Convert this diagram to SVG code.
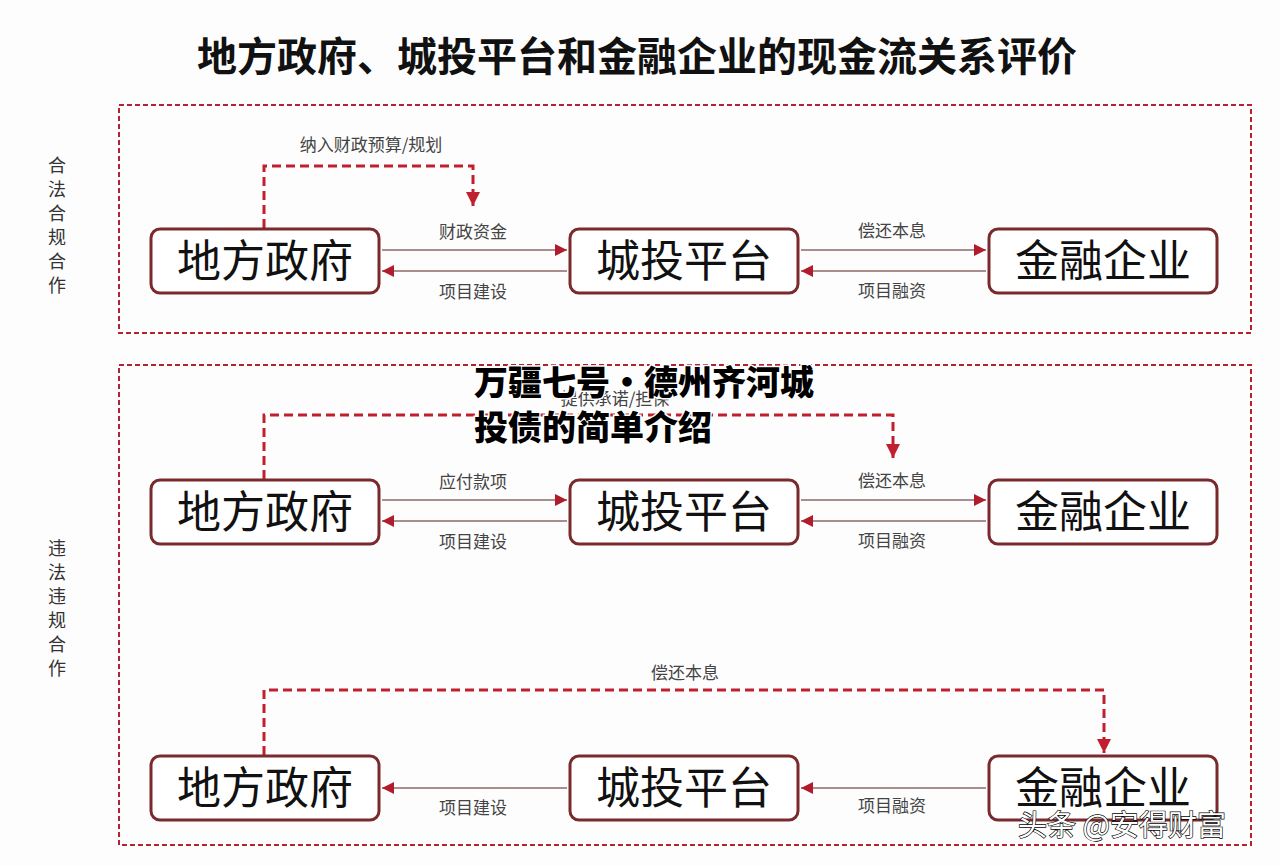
<svg xmlns="http://www.w3.org/2000/svg" width="1280" height="866" viewBox="0 0 1280 866">
<style>
.cjk{font-family:"Noto Sans CJK SC","Noto Sans",sans-serif}
.frame{fill:none;stroke:#b3222e;stroke-width:2;stroke-dasharray:5 3}
.node rect{fill:#fff;stroke:#7a2a2c;stroke-width:3}
.node text{font-size:44px;fill:#111;text-anchor:middle}
.solid{fill:none;stroke:#8a6a6a;stroke-width:1.3}
.dash{fill:none;stroke:#c0202e;stroke-width:3;stroke-dasharray:9 5}
.lbl{font-size:17px;fill:#444;text-anchor:middle}
.side{font-size:18px;fill:#333;text-anchor:middle}
</style>
<defs>
<marker id="ah" viewBox="0 0 10 10" refX="10" refY="5" markerWidth="14" markerHeight="12" markerUnits="userSpaceOnUse" orient="auto">
<path d="M0,0 L10,5 L0,10 Z" fill="#b01c2c"/>
</marker>
<marker id="ahd" viewBox="0 0 10 10" refX="10" refY="5" markerWidth="16" markerHeight="14" markerUnits="userSpaceOnUse" orient="auto">
<path d="M0,0 L10,5 L0,10 Z" fill="#c0202e"/>
</marker>
</defs>
<rect width="1280" height="866" fill="#fdfdfd"/>
<text class="cjk" x="637" y="71" font-size="40" font-weight="bold" text-anchor="middle" fill="#111">地方政府、城投平台和金融企业的现金流关系评价</text>

<g id="frames">
<rect class="frame" x="119" y="105" width="1132" height="228"/>
<rect class="frame" x="119" y="365" width="1132" height="480"/>
</g>

<g id="side-labels" class="cjk">
<text class="side" x="57"><tspan x="57" y="172">合</tspan><tspan x="57" y="196">法</tspan><tspan x="57" y="220">合</tspan><tspan x="57" y="244">规</tspan><tspan x="57" y="268">合</tspan><tspan x="57" y="292">作</tspan></text>
<text class="side" x="57"><tspan x="57" y="555">违</tspan><tspan x="57" y="579">法</tspan><tspan x="57" y="603">违</tspan><tspan x="57" y="627">规</tspan><tspan x="57" y="651">合</tspan><tspan x="57" y="675">作</tspan></text>
</g>

<g id="connectors">
<path class="dash" d="M264,228 V166 H473 V206" marker-end="url(#ahd)"/>
<line class="solid" x1="382" y1="250" x2="567" y2="250" marker-end="url(#ah)"/>
<line class="solid" x1="567" y1="271" x2="382" y2="271" marker-end="url(#ah)"/>
<line class="solid" x1="801" y1="250" x2="986" y2="250" marker-end="url(#ah)"/>
<line class="solid" x1="986" y1="271" x2="801" y2="271" marker-end="url(#ah)"/>
<path class="dash" d="M264,479 V415 H893 V458" marker-end="url(#ahd)"/>
<line class="solid" x1="382" y1="500" x2="567" y2="500" marker-end="url(#ah)"/>
<line class="solid" x1="567" y1="521" x2="382" y2="521" marker-end="url(#ah)"/>
<line class="solid" x1="801" y1="500" x2="986" y2="500" marker-end="url(#ah)"/>
<line class="solid" x1="986" y1="521" x2="801" y2="521" marker-end="url(#ah)"/>
<path class="dash" d="M264,755 V690 H1104 V753" marker-end="url(#ahd)"/>
<line class="solid" x1="567" y1="788" x2="382" y2="788" marker-end="url(#ah)"/>
<line class="solid" x1="986" y1="788" x2="801" y2="788" marker-end="url(#ah)"/>
</g>

<g id="connector-labels" class="cjk">
<text class="lbl" x="371" y="151">纳入财政预算/规划</text>
<text class="lbl" x="473" y="238">财政资金</text>
<text class="lbl" x="473" y="298">项目建设</text>
<text class="lbl" x="892" y="237">偿还本息</text>
<text class="lbl" x="892" y="297">项目融资</text>
<text class="lbl" x="615" y="405">提供承诺/担保</text>
<text class="lbl" x="473" y="488">应付款项</text>
<text class="lbl" x="473" y="548">项目建设</text>
<text class="lbl" x="892" y="487">偿还本息</text>
<text class="lbl" x="892" y="547">项目融资</text>
<text class="lbl" x="685" y="679">偿还本息</text>
<text class="lbl" x="473" y="814">项目建设</text>
<text class="lbl" x="892" y="812">项目融资</text>
</g>

<g id="gov1" class="node cjk"><rect x="151" y="229" width="228" height="64" rx="9"/><text x="265" y="277">地方政府</text></g>
<g id="lgfv1" class="node cjk"><rect x="570" y="229" width="228" height="64" rx="9"/><text x="684" y="277">城投平台</text></g>
<g id="fin1" class="node cjk"><rect x="989" y="229" width="228" height="64" rx="9"/><text x="1103" y="277">金融企业</text></g>

<g id="gov2" class="node cjk"><rect x="151" y="480" width="228" height="64" rx="9"/><text x="265" y="528">地方政府</text></g>
<g id="lgfv2" class="node cjk"><rect x="570" y="480" width="228" height="64" rx="9"/><text x="684" y="528">城投平台</text></g>
<g id="fin2" class="node cjk"><rect x="989" y="480" width="228" height="64" rx="9"/><text x="1103" y="528">金融企业</text></g>

<g id="gov3" class="node cjk"><rect x="151" y="756" width="228" height="64" rx="9"/><text x="265" y="804">地方政府</text></g>
<g id="lgfv3" class="node cjk"><rect x="570" y="756" width="228" height="64" rx="9"/><text x="684" y="804">城投平台</text></g>
<g id="fin3" class="node cjk"><rect x="989" y="756" width="228" height="64" rx="9"/><text x="1103" y="804">金融企业</text></g>

<g id="overlay" class="cjk" font-weight="900" font-size="34" fill="#000" stroke="#fff" stroke-width="3" paint-order="stroke">
<text x="474" y="395">万疆七号·德州齐河城</text>
<text x="474" y="440">投债的简单介绍</text>
</g>
<text class="cjk" x="1018" y="836" font-size="29" fill="#fff" stroke="#000" stroke-width="1.3" paint-order="stroke">头条 @安得财富</text>
</svg>
